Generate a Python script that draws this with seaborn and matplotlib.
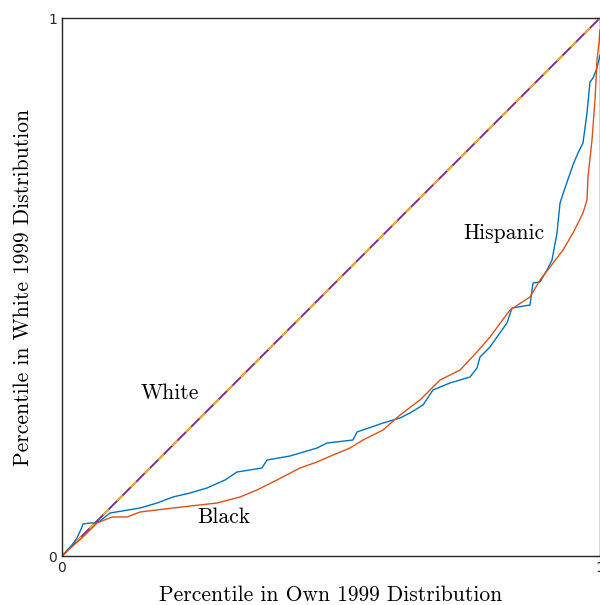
import numpy as np
import pandas as pd
import matplotlib
matplotlib.use("Agg")
import matplotlib.pyplot as plt
import seaborn as sns

# Hispanic curve (own percentile -> percentile in white distribution)
hisp_x = [0, 0.0186, 0.0279, 0.0372, 0.0390, 0.0520, 0.0613, 0.0706, 0.0892, 0.1450,
          0.1766, 0.2063, 0.2379, 0.2695, 0.3030, 0.3253, 0.3717, 0.3810, 0.4238, 0.4740,
          0.4926, 0.5409, 0.5483, 0.5967, 0.6283, 0.6468, 0.6710, 0.6896, 0.7212, 0.7584,
          0.7714, 0.7770, 0.7955, 0.8178, 0.8271, 0.8364, 0.8699, 0.8755, 0.8885, 0.9015,
          0.9108, 0.9201, 0.9257, 0.9349, 0.9498, 0.9591, 0.9684, 0.9758, 0.9814, 0.9870,
          0.9944, 1.0]
hisp_y = [0, 0.0204, 0.0335, 0.0539, 0.0595, 0.0613, 0.0613, 0.0651, 0.0799, 0.0892,
          0.0985, 0.1097, 0.1171, 0.1264, 0.1413, 0.1561, 0.1636, 0.1784, 0.1859, 0.2007,
          0.2100, 0.2156, 0.2305, 0.2472, 0.2565, 0.2658, 0.2807, 0.3086, 0.3216, 0.3327,
          0.3494, 0.3699, 0.3885, 0.4201, 0.4331, 0.4610, 0.4665, 0.5074, 0.5093, 0.5316,
          0.5502, 0.6004, 0.6561, 0.6840, 0.7268, 0.7491, 0.7677, 0.8234, 0.8810, 0.8885,
          0.9071, 0.9312]

# Black curve
black_x = [0, 0.0112, 0.0390, 0.0651, 0.0929, 0.1208, 0.1450, 0.2063, 0.2881, 0.3309,
           0.3625, 0.3996, 0.4424, 0.4740, 0.5037, 0.5353, 0.5595, 0.5967, 0.6283, 0.6654,
           0.6896, 0.7026, 0.7398, 0.7714, 0.7955, 0.8327, 0.8699, 0.8885, 0.9071, 0.9312,
           0.9498, 0.9684, 0.9758, 0.9777, 0.9851, 0.9907, 0.9944, 0.9981, 1.0]
black_y = [0, 0.0112, 0.0353, 0.0613, 0.0725, 0.0725, 0.0818, 0.0892, 0.0985, 0.1097,
           0.1227, 0.1413, 0.1636, 0.1747, 0.1877, 0.2007, 0.2156, 0.2342, 0.2621, 0.2900,
           0.3141, 0.3271, 0.3457, 0.3792, 0.4071, 0.4572, 0.4814, 0.5130, 0.5372, 0.5688,
           0.6004, 0.6375, 0.6617, 0.7045, 0.7732, 0.8476, 0.9219, 0.9535, 0.9777]

# White curve is the 45-degree line
white_x = [0, 1]
white_y = [0, 1]

tick_vals = [0, 1]
tick_labels = ["0", "1"]

sns.set_style("white")
plt.rcParams["font.family"] = ["DejaVu Sans"]
serif = ["cmr10", "DejaVu Serif"]

fig = plt.figure(figsize=(6, 6.05), dpi=100)
ax = fig.add_axes([62 / 600, 49 / 605, 538 / 600, 538 / 605])

df_w = pd.DataFrame({"x": white_x, "y": white_y})
sns.lineplot(data=df_w, x="x", y="y", ax=ax, color="#7E2F8E", lw=1.4,
             estimator=None, sort=False)
ax.plot(white_x, white_y, color="#EDB120", lw=1.4, dashes=(4, 6))

df_h = pd.DataFrame({"x": hisp_x, "y": hisp_y})
sns.lineplot(data=df_h, x="x", y="y", ax=ax, color="#0072BD", lw=1.0,
             estimator=None, sort=False)
df_b = pd.DataFrame({"x": black_x, "y": black_y})
sns.lineplot(data=df_b, x="x", y="y", ax=ax, color="#D95319", lw=1.0,
             estimator=None, sort=False)

ax.text(0.2, 0.303, "White", family=serif, fontsize=15.5, ha="center", va="center",
        color="black")
ax.text(0.822, 0.600, "Hispanic", family=serif, fontsize=15.5, ha="center", va="center",
        color="black")
ax.text(0.301, 0.072, "Black", family=serif, fontsize=15.5, ha="center", va="center",
        color="black")

ax.set_xlim(0, 1)
ax.set_ylim(0, 1)
ax.set_xticks(tick_vals)
ax.set_xticklabels(tick_labels)
ax.set_yticks(tick_vals)
ax.set_yticklabels(tick_labels)
ax.tick_params(direction="in", length=4, labelsize=10, colors="#262626",
               top=True, right=True)
for s in ax.spines.values():
    s.set_color("#262626")
    s.set_linewidth(1.0)

ax.set_xlabel("Percentile in Own 1999 Distribution", family=serif, fontsize=15.5,
              labelpad=8, color="black")
ax.set_ylabel("Percentile in White 1999 Distribution", family=serif, fontsize=15.5,
              labelpad=11, color="black")

fig.savefig("out.png", dpi=100)
